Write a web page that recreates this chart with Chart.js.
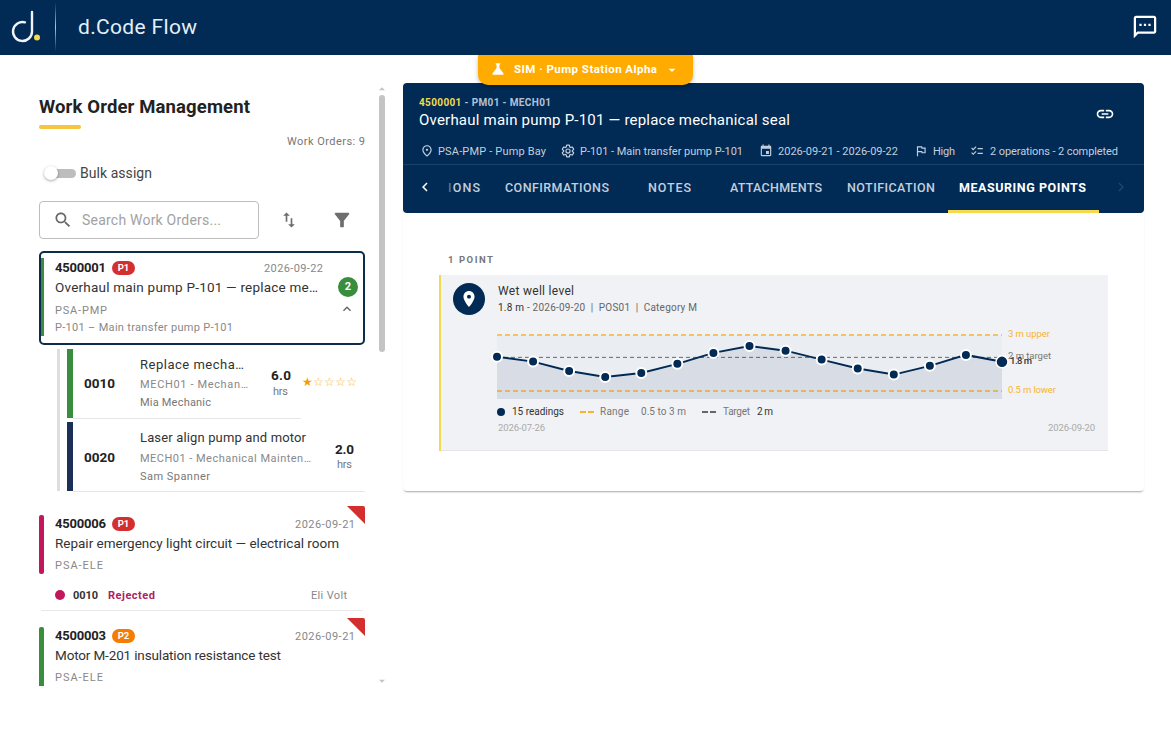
<!DOCTYPE html>
<html><head><meta charset="utf-8"><title>d.Code Flow</title>
<script src="https://cdn.jsdelivr.net/npm/chart.js@4"></script>
<style>
html,body{margin:0;padding:0;background:#fff;width:1171px;height:741px;overflow:hidden;font-family:Roboto,sans-serif}
.t{position:absolute;white-space:nowrap;line-height:1;transform:translateY(-50%)}
.b{position:absolute}
svg.i{position:absolute;transform:translate(-50%,-50%)}
canvas{position:absolute;left:483px;top:320px}
</style></head><body>
<div id="root"></div>
<canvas id="chart" width="600" height="90" style="width:600px;height:90px"></canvas>
<script>
// ---- chart data ----
const readingDates = ['2026-07-26','2026-07-30','2026-08-03','2026-08-07','2026-08-11','2026-08-15','2026-08-19','2026-08-23','2026-08-27','2026-08-31','2026-09-04','2026-09-08','2026-09-12','2026-09-16','2026-09-20'];
const readingValues = [2.03,1.81,1.39,1.12,1.30,1.71,2.20,2.51,2.30,1.90,1.50,1.23,1.62,2.11,1.80];
const upperLimit = 3;
const lowerLimit = 0.5;
const targetValue = 2;

const NAVY='#012a55', AMBER='#f7b52f';
const root=document.getElementById('root');
function box(x,y,w,h,css){const d=document.createElement('div');d.className='b';d.style.cssText=`left:${x}px;top:${y}px;width:${w}px;height:${h}px;${css||''}`;root.appendChild(d);return d;}
// text placed from x to end: the letter spacing is fitted so that the run ends where the reference does
function T(x,end,y,s,size,color,weight,extra){const d=document.createElement('div');d.className='t';d.style.cssText=`left:${x}px;top:${y}px;font-size:${size}px;color:${color};font-weight:${weight||400};${extra||''}`;d.innerHTML=s;root.appendChild(d);
 const w=d.getBoundingClientRect().width,n=d.textContent.length;d.style.letterSpacing=((end-x-w)/Math.max(1,n-1)).toFixed(3)+'px';return d;}
function icon(cx,cy,size,path,fill,extra){const n=document.createElementNS('http://www.w3.org/2000/svg','svg');n.setAttribute('class','i');n.setAttribute('viewBox','0 0 24 24');n.setAttribute('width',size);n.setAttribute('height',size);n.style.left=cx+'px';n.style.top=cy+'px';n.innerHTML=`<path d="${path}" fill="${fill}" ${extra||''}/>`;root.appendChild(n);return n;}
const P={search:'M15.5 14h-.79l-.28-.27C15.41 12.59 16 11.11 16 9.5 16 5.91 13.09 3 9.5 3S3 5.91 3 9.5 5.91 16 9.5 16c1.61 0 3.09-.59 4.23-1.57l.27.28v.79l5 4.99L20.49 19l-4.99-5zm-6 0C7.01 14 5 11.99 5 9.5S7.01 5 9.5 5 14 7.01 14 9.5 11.99 14 9.5 14z',
filter:'M4.25 5.61C6.27 8.2 10 13 10 13v6c0 .55.45 1 1 1h2c.55 0 1-.45 1-1v-6s3.72-4.8 5.74-7.39c.51-.66.04-1.61-.79-1.61H5.04c-.83 0-1.3.95-.79 1.61z',
swap:'M16 17.01V10h-2v7.01h-3L15 21l4-3.99h-3zM9 3L5 6.99h3V14h2V6.99h3L9 3z',
place:'M12 2C8.13 2 5 5.13 5 9c0 5.25 7 13 7 13s7-7.75 7-13c0-3.87-3.13-7-7-7zm0 9.5c-1.38 0-2.5-1.12-2.5-2.5s1.12-2.5 2.5-2.5 2.5 1.12 2.5 2.5-1.12 2.5-2.5 2.5z',
link:'M3.9 12c0-1.71 1.39-3.1 3.1-3.1h4V7H7c-2.76 0-5 2.24-5 5s2.24 5 5 5h4v-1.9H7c-1.71 0-3.1-1.39-3.1-3.1zM8 13h8v-2H8v2zm9-6h-4v1.9h4c1.71 0 3.1 1.39 3.1 3.1s-1.39 3.1-3.1 3.1h-4V17h4c2.76 0 5-2.24 5-5s-2.24-5-5-5z',
pinO:'M12 12c-1.1 0-2-.9-2-2s.9-2 2-2 2 .9 2 2-.9 2-2 2zm6-1.8C18 6.57 15.35 4 12 4s-6 2.57-6 6.2c0 2.34 1.95 5.44 6 9.14 4.05-3.7 6-6.8 6-9.14zM12 2c4.2 0 8 3.22 8 8.2 0 3.32-2.67 7.25-8 11.8-5.33-4.55-8-8.48-8-11.8C4 5.22 7.8 2 12 2z',
flag:'M12.36 6l.4 2H18v6h-3.36l-.4-2H7V6h5.36M14 4H5v17h2v-7h5.6l.4 2h7V6h-5.6L14 4z',
event:'M17 12h-5v5h5v-5zM16 1v2H8V1H6v2H5c-1.11 0-1.99.9-1.99 2L3 19c0 1.1.89 2 2 2h14c1.1 0 2-.9 2-2V5c0-1.1-.9-2-2-2h-1V1h-2zm3 18H5V8h14v11z',
check:'M22 7h-9v2h9V7zM22 15h-9v2h9v-2zM5.54 11L2 7.46l1.41-1.41 2.12 2.12 4.24-4.24 1.41 1.41L5.54 11zM5.54 19L2 15.46l1.41-1.41 2.12 2.12 4.24-4.24 1.41 1.41L5.54 19z',
up:'M12 8l-6 6 1.41 1.41L12 10.83l4.59 4.58L18 14z',
left:'M15.41 7.41L14 6l-6 6 6 6 1.41-1.41L10.83 12z',
right:'M10 6L8.59 7.41 13.17 12l-4.58 4.59L10 18l6-6z',
drop:'M7 10l5 5 5-5z',
flask:'M19.8 18.4L14 10.67V6.5l1.35-1.69c.26-.33.03-.81-.39-.81H9.04c-.42 0-.65.48-.39.81L10 6.5v4.17L4.2 18.4c-.49.66-.02 1.6.8 1.6h14c.82 0 1.29-.94.8-1.6z',
chat:'M20 2H4c-1.1 0-2 .9-2 2v18l4-4h14c1.1 0 2-.9 2-2V4c0-1.1-.9-2-2-2zm0 14H5.17L4 17.17V4h16v12zM7 9h2v2H7zm4 0h2v2h-2zm4 0h2v2h-2z',
gear:'M19.43 12.98c.04-.32.07-.64.07-.98 0-.34-.03-.66-.07-.98l2.11-1.65c.19-.15.24-.42.12-.64l-2-3.46c-.12-.22-.39-.3-.61-.22l-2.49 1c-.52-.4-1.08-.73-1.69-.98l-.38-2.65C14.46 2.18 14.25 2 14 2h-4c-.25 0-.46.18-.49.42l-.38 2.65c-.61.25-1.17.59-1.69.98l-2.49-1c-.23-.09-.49 0-.61.22l-2 3.46c-.13.22-.07.49.12.64l2.11 1.65c-.04.32-.07.65-.07.98 0 .33.03.66.07.98l-2.11 1.65c-.19.15-.24.42-.12.64l2 3.46c.12.22.39.3.61.22l2.49-1c.52.4 1.08.73 1.69.98l.38 2.65c.03.24.24.42.49.42h4c.25 0 .46-.18.49-.42l.38-2.65c.61-.25 1.17-.59 1.69-.98l2.49 1c.23.09.49 0 .61-.22l2-3.46c.12-.22.07-.49-.12-.64l-2.11-1.65zM12 15.5c-1.93 0-3.5-1.57-3.5-3.5s1.57-3.5 3.5-3.5 3.5 1.57 3.5 3.5-1.57 3.5-3.5 3.5z'};

// ---- app bar ----
box(0,0,1171,55,`background:${NAVY}`);
const logo=document.createElementNS('http://www.w3.org/2000/svg','svg');
logo.setAttribute('width','40');logo.setAttribute('height','40');logo.style.cssText='position:absolute;left:6px;top:6px';
logo.innerHTML='<path d="M26 6 V25.5 A9.5 9.5 0 1 1 19 16.3" fill="none" stroke="#f0f4f8" stroke-width="2.4" stroke-linecap="round"/><circle cx="31" cy="31.5" r="3" fill="#f5d94e"/>';
root.appendChild(logo);
box(55,2,1,50,'background:linear-gradient(#012a55,#d9c94f 50%,#012a55)');
T(78,197,27,'d.Code Flow',21,'#e6eef7');
icon(1145,27,27,P.chat,'#fff');

// ---- left panel ----
T(39,250,107,'Work Order Management',18.5,'#222',700);
box(39,125,42,4,'background:#f5c542;border-radius:2px');
T(287,365,141,'Work Orders: 9',11,'#777');
box(45,169,31,9,'background:#bdbdbd;border-radius:5px');
box(44,166,14,14,'background:#fff;border-radius:50%;box-shadow:0 1px 3px rgba(0,0,0,.35)');
T(80,152,173,'Bulk assign',14,'#444');
box(39,201,218,36,'border:1px solid #bdbdbd;border-radius:4px');
icon(63,220,20,P.search,'#666');
T(82,221,220,'Search Work Orders...',14,'#a2a2a2');
icon(289,220,20,P.swap,'#6e6e6e');
icon(342,220,22,P.filter,'#6e6e6e');
box(379,95,6,257,'background:#c4c4c4;border-radius:3px');
icon(382,89,14,P.drop,'#c4c4c4','transform="rotate(180 12 12)"');
icon(382,681,14,P.drop,'#c4c4c4');

// first work order
box(39,251,322,90,`border:2px solid #0a2c4d;border-radius:5px`);
box(41,258,3,78,'background:#388e3c');
function pill(x,y,s,c){const d=box(x,y-7,23,14,`background:${c};border-radius:7px;color:#fff;font-size:9.5px;font-weight:700;line-height:14px;text-align:center`);d.textContent=s;}
T(55,106,267,'4500001',13,'#222',700);pill(112,268,'P1','#d32f2f');
T(264,323,268,'2026-09-22',11,'#888');
T(55,318,288,'Overhaul main pump P-101 — replace me…',13.5,'#333');
T(55,107,310,'PSA-PMP',11,'#888');
T(55,233,327,'P-101 – Main transfer pump P-101',11,'#888');
const bd=box(338,277,20,20,'background:#388e3c;border-radius:50%;color:#fff;font-size:11px;font-weight:700;line-height:20px;text-align:center');bd.textContent='2';
icon(347,309,16,P.up,'#666');

// operations
box(57,349,3,142,'background:#dedede');
box(67,349,6,69,'background:#388e3c');
box(67,422,6,69,'background:#1b2f57');
box(73,418,228,1,'background:#e6e6e6');
box(73,491,292,1,'background:#e6e6e6');
T(84,115,384,'0010',13.5,'#222',700);
T(140,244,364,'Replace mecha…',13,'#333');
T(140,248,384,'MECH01 - Mechan…',11,'#888');
T(140,211,402,'Mia Mechanic',11,'#777');
T(271,291,376,'6.0',13.5,'#222',700);
T(273,288,391,'hrs',11,'#777');
T(302,357,382,'<span style="color:#f59e0b">★</span><span>☆☆☆☆</span>',12,AMBER,400,"font-family:'DejaVu Sans'");
T(84,115,458,'0020',13.5,'#222',700);
T(140,306,437,'Laser align pump and motor',13,'#333');
T(140,311,458,'MECH01 - Mechanical Mainten…',11,'#888');
T(140,210,476,'Sam Spanner',11,'#777');
T(335,354,450,'2.0',13.5,'#222',700);
T(337,352,464,'hrs',11,'#777');

// second work order
function corner(y){box(347,y,18,18,'background:#d32f2f;clip-path:polygon(0 0,100% 0,100% 100%);border-top-right-radius:2px');}
box(39,515,5,59,'background:#c2185b;border-radius:2px');
corner(506);
T(55,106,523,'4500006',13,'#222',700);pill(112,524,'P1','#d32f2f');
T(295,355,524,'2026-09-21',11,'#888');
T(55,339,544,'Repair emergency light circuit — electrical room',13.5,'#333');
T(55,103,565,'PSA-ELE',11,'#888');
box(55,590,10,10,'background:#c2185b;border-radius:50%');
T(73,98,595,'0010',11,'#333',700);
T(108,155,595,'Rejected',11,'#ad2065',700);
T(311,347,595,'Eli Volt',11,'#888');
box(41,610,322,1,'background:#e8e8e8');

// third work order
box(39,627,5,59,'background:#388e3c;border-radius:2px 2px 0 0');
corner(618);
T(55,106,635,'4500003',13,'#222',700);pill(112,636,'P2','#f57c00');
T(295,355,636,'2026-09-21',11,'#888');
T(55,281,656,'Motor M-201 insulation resistance test',13.5,'#333');
T(55,103,677,'PSA-ELE',11,'#888');

// ---- detail area ----
box(403,205,741,286,'background:#fff;border-radius:0 0 4px 4px;box-shadow:0 2px 2px -1px rgba(0,0,0,.35)');
box(403,83,741,130,`background:${NAVY};border-radius:4px`);
box(478,55,215,30,'background:#ffab00;border-radius:0 0 10px 10px;box-shadow:0 2px 4px rgba(0,0,0,.25)');
icon(498,69,17,P.flask,'#fff');
T(514,657,70,'SIM · Pump Station Alpha',11.5,'#fff',700);
icon(672,70,16,P.drop,'#fff');
T(419,551,103,'<span style="color:#f5d94e">4500001</span> - PM01 - MECH01',10,'#b4c2d3',700);
T(419,790,120,'Overhaul main pump P-101 — replace mechanical seal',15,'#fff');
icon(1105,114,20,P.link,'#fff');
const MC='#c3cfdd';
icon(427,151,14,P.pinO,MC);T(438,546,151,'PSA-PMP - Pump Bay',11,MC);
icon(568,151,14,P.gear,'none',`stroke="${MC}" stroke-width="2"`);T(580,743,151,'P-101 - Main transfer pump P-101',11,MC);
icon(766,151,14,P.event,MC);T(778,898,151,'2026-09-21 - 2026-09-22',11,MC);
icon(921,151,14,P.flag,MC);T(933,955,151,'High',11,MC);
icon(977,151,14,P.check,MC);T(990,1118,151,'2 operations - 2 completed',11,MC);
box(403,164,741,1,'background:#1c4068');
const TC='#c3cfdd';
icon(425,187,18,P.left,'#fff');
T(448,480,188,'<span style="opacity:.45">I</span>ONS',12.5,TC,500);
T(505,609,188,'CONFIRMATIONS',12.5,TC,500);
T(648,691,188,'NOTES',12.5,TC,500);
T(730,822,188,'ATTACHMENTS',12.5,TC,500);
T(847,935,188,'NOTIFICATION',12.5,TC,500);
T(959,1086,188,'MEASURING POINTS',12.5,'#fff',700);
icon(1121,187,18,P.right,'#1f4470');
box(948,210,151,3,'background:#f5d94e');

// measuring point panel
T(448,493,260,'1 POINT',9.5,'#777',700);
box(439,275,669,175,'background:#f0f2f5;border-bottom:1px solid #e3e5e8');
box(439,275,2,176,'background:#f5d94e');
box(453,283,32,32,`background:${NAVY};border-radius:50%`);
icon(469,299,19,P.place,'#fff');
T(498,574,291,'Wet well level',12,'#333');
T(498,697,308,'<span style="color:#333">1.8 m</span> - 2026-09-20 &nbsp;|&nbsp; POS01 &nbsp;|&nbsp; Category M',10,'#666');
box(497,408,8,8,`background:${NAVY};border-radius:50%`);
T(512,564,412,'15 readings',10,'#333');
box(580,411,6,2,`background:${AMBER}`);box(588,411,6,2,`background:${AMBER}`);
T(600,629,412,'Range',10,'#777');T(641,686,412,'0.5 to 3 m',10,'#777');
box(702,411,6,2,'background:#666');box(710,411,6,2,'background:#666');
T(723,750,412,'Target',10,'#777');T(757,773,412,'2 m',10,'#333');
T(498,545,428,'2026-07-26',9.5,'#aaa');
T(1048,1095,428,'2026-09-20',9.5,'#aaa');
T(1008,1050,334,'3 m upper',9.5,AMBER);
T(1008,1051,356,'2 m target',9.5,'#777');
T(1010,1032,361,'1.8 m',9.5,'#333',500);
T(1008,1056,390,'0.5 m lower',9.5,AMBER);

// ---- chart ----
const n=readingDates.length;
const constant=v=>readingDates.map(()=>v);
new Chart(document.getElementById('chart'),{
  type:'line',
  data:{labels:readingDates,datasets:[
    {label:'Reading',data:readingValues,borderColor:NAVY,borderWidth:2,backgroundColor:'rgba(1,42,85,0.08)',fill:'start',tension:0,clip:false,order:1,
     pointRadius:readingDates.map((d,i)=>i===n-1?6:5),pointBorderWidth:readingDates.map((d,i)=>i===n-1?1.5:2),pointBackgroundColor:NAVY,pointBorderColor:'#fff'},
    {label:'Target',data:constant(targetValue),borderColor:'#666',borderWidth:1,borderDash:[4,3],pointRadius:0,fill:false,order:2},
    {label:'Upper',data:constant(upperLimit),borderColor:AMBER,borderWidth:1.4,borderDash:[5,3],pointRadius:0,fill:false,order:3},
    {label:'Lower',data:constant(lowerLimit),borderColor:AMBER,borderWidth:1.4,borderDash:[5,3],pointRadius:0,fill:false,order:3},
    {label:'Band',data:constant(upperLimit),borderWidth:0,pointRadius:0,backgroundColor:'rgba(1,42,85,0.025)',fill:'start',order:4}
  ]},
  options:{responsive:false,animation:false,devicePixelRatio:window.devicePixelRatio||1,
    layout:{padding:{left:14,right:81,top:10.5,bottom:11}},
    plugins:{legend:{display:false},tooltip:{enabled:false}},
    scales:{x:{display:false,offset:false},y:{display:false,min:0.14,max:3.2}}}
});
</script></body></html>
